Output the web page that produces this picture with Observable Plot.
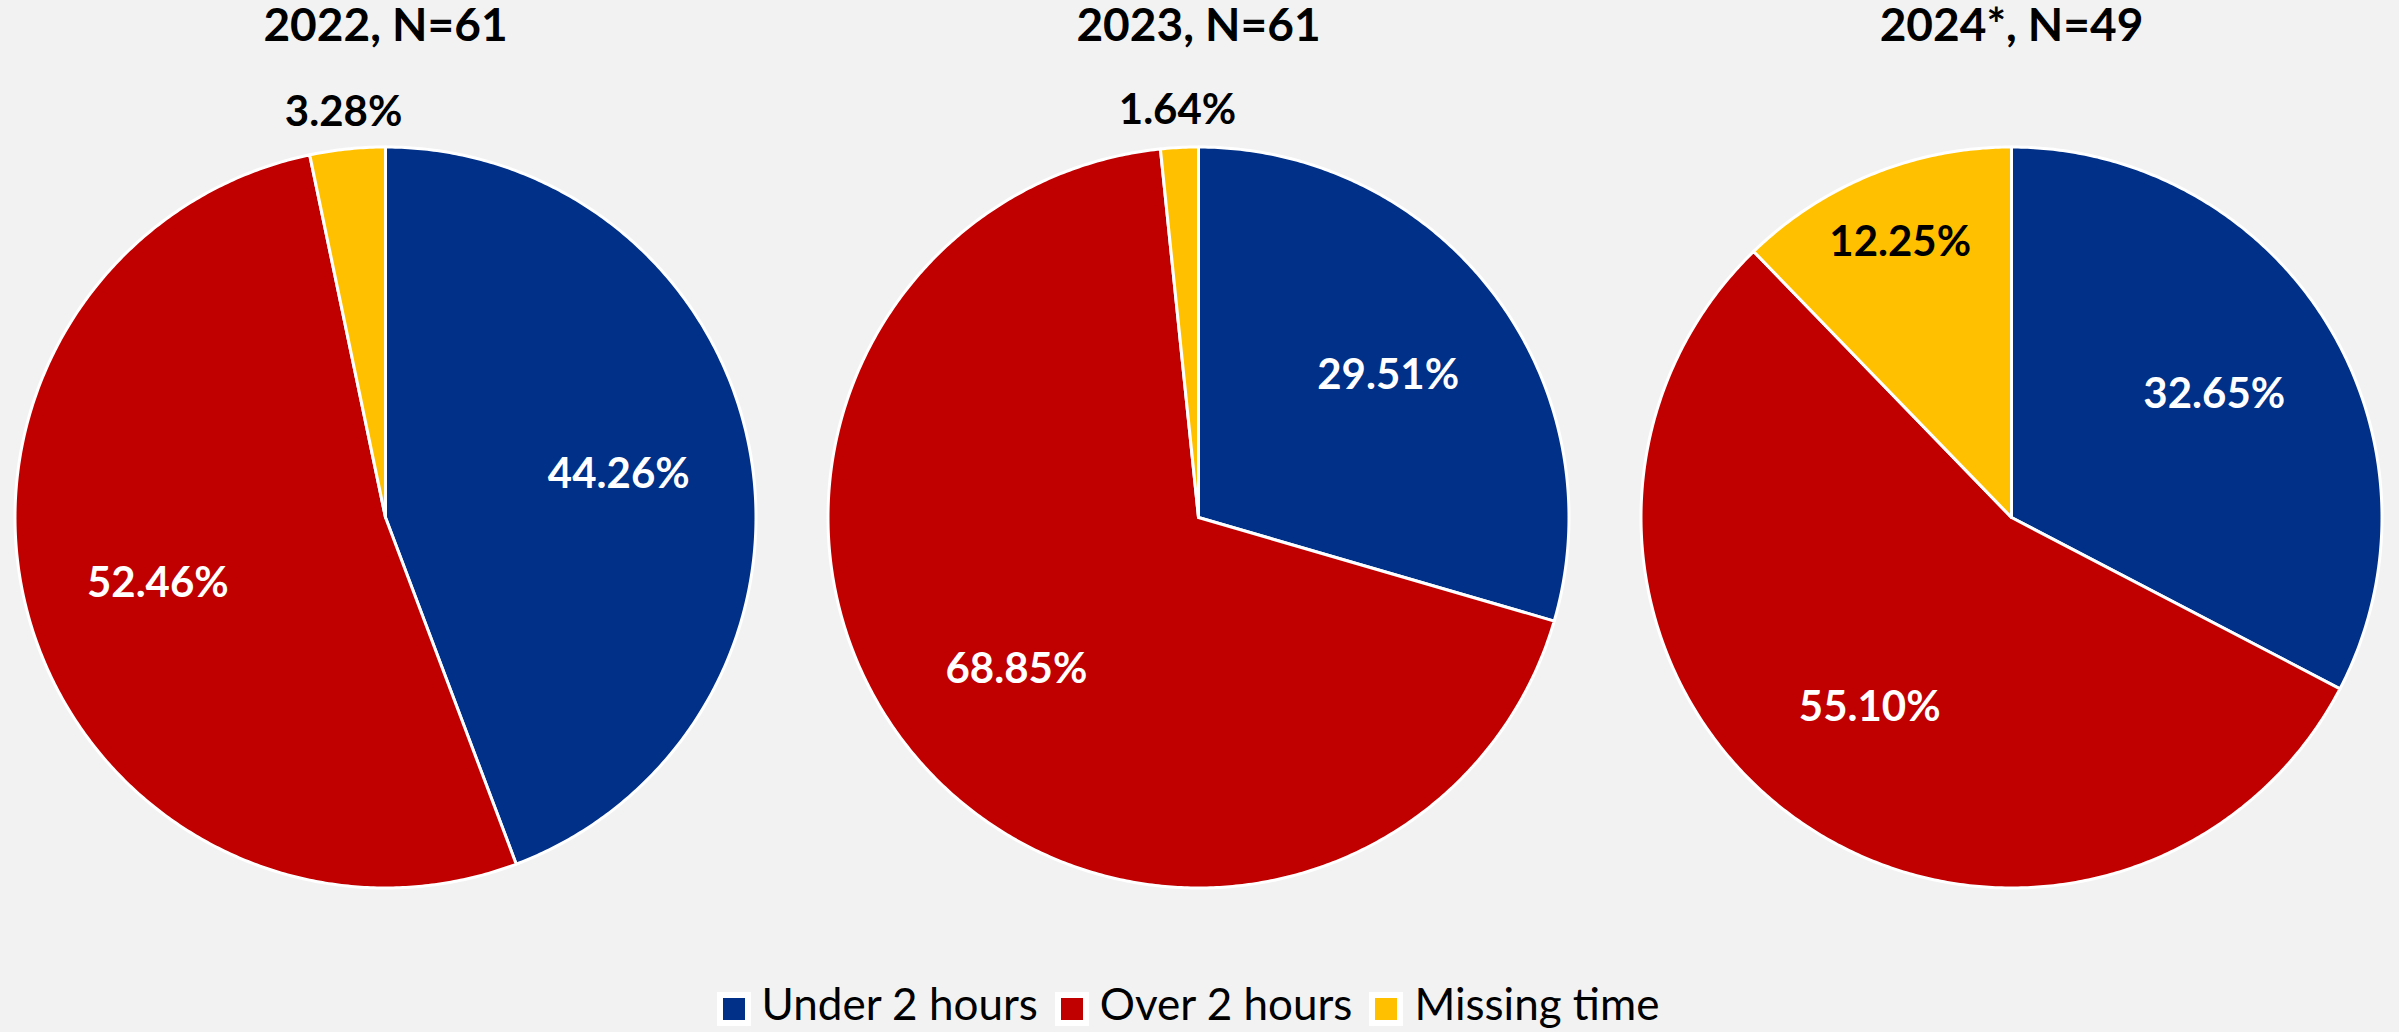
<!DOCTYPE html>
<html>
<head>
<meta charset="utf-8">
<script src="https://cdn.jsdelivr.net/npm/d3@7"></script>
<script src="https://cdn.jsdelivr.net/npm/@observablehq/plot@0.6"></script>
<style>
  html, body { margin: 0; padding: 0; background: #f2f2f2; }
  #chart { width: 2399px; background: #f2f2f2; }
  #legend { width: 2399px; height: 57px; display: flex; justify-content: center; }
  .lg-swatches { font-family: Lato, "Open Sans", sans-serif !important; font-size: 44px !important; line-height: 57px !important; margin: 0 !important; color: #000; display: flex !important; justify-content: center !important; align-items: center !important; }
  .lg-swatch { margin-right: 20px !important; display: inline-flex !important; align-items: center !important; }
  .lg-swatch > svg { margin-right: 14px !important; position: relative; top: 5px; }
  .lg-swatch > svg rect { stroke: #ffffff; stroke-width: 6px; }
</style>
</head>
<body>
<div id="chart"></div>
<div id="legend"></div>
<script>
// ---- data ----
const titles = ["2022, N=61", "2023, N=61", "2024*, N=49"];
const categories = ["Under 2 hours", "Over 2 hours", "Missing time"];
const colors = ["#003087", "#c00000", "#ffc000"];
const under2 = [44.26, 29.51, 32.65];
const over2 = [52.46, 68.85, 55.10];
const missing = [3.28, 1.64, 12.25];

// ---- layout (radius units) ----
const W = 2399, H = 975;
const R = 370.5;            // pixels per unit (pie radius)
const gap = 813 / R;        // distance between pie centres
const x0 = -385 / R;
const yTop = 517 / R, yBottom = -(H - 517) / R;
const titleY = (517 - 26) / R;

const series = [under2, over2, missing];
const slices = [];   // polygon vertices
const labels = [];
const heads = [];
titles.forEach((t, i) => {
  const cx = i * gap;
  heads.push({x: cx, y: titleY, text: t});
  let start = 0;
  categories.forEach((c, k) => {
    const v = series[k][i];
    const a0 = start / 100 * 2 * Math.PI;
    const a1 = (start + v) / 100 * 2 * Math.PI;
    const id = i + "-" + k;
    slices.push({id, cat: c, x: cx, y: 0});
    const n = Math.max(2, Math.ceil((a1 - a0) / (Math.PI / 360)));
    for (let j = 0; j <= n; j++) {
      const a = a0 + (a1 - a0) * j / n;
      slices.push({id, cat: c, x: cx + Math.sin(a), y: Math.cos(a)});
    }
    slices.push({id, cat: c, x: cx, y: 0});
    const am = (a0 + a1) / 2;
    const rl = v < 5 ? 1.1 : v < 20 ? 0.8 : 0.64;
    const dark = v < 5 || k === 2;
    labels.push({x: cx + rl * Math.sin(am), y: rl * Math.cos(am), text: v.toFixed(2) + "%", dark});
    start += v;
  });
});

const font = "Lato, 'Open Sans', sans-serif";
const plot = Plot.plot({
  width: W, height: H,
  marginTop: 0, marginBottom: 0, marginLeft: 0, marginRight: 0,
  style: {background: "#f2f2f2", overflow: "visible"},
  x: {axis: null, domain: [x0, x0 + W / R]},
  y: {axis: null, domain: [yBottom, yTop]},
  color: {domain: categories, range: colors},
  marks: [
    Plot.line(slices, {x: "x", y: "y", z: "id", fill: "cat", stroke: "#ffffff", strokeWidth: 3, strokeLinejoin: "round", curve: "linear"}),
    Plot.text(labels.filter(d => !d.dark), {x: "x", y: "y", text: "text", fill: "#ffffff", fontSize: 42, fontWeight: "bold", fontFamily: font}),
    Plot.text(labels.filter(d => d.dark), {x: "x", y: "y", text: "text", fill: "#000000", fontSize: 42, fontWeight: "bold", fontFamily: font}),
    Plot.text(heads, {x: "x", y: "y", text: "text", fill: "#000000", fontSize: 46, fontWeight: "bold", fontFamily: font})
  ]
});
document.getElementById("chart").append(plot);

const legend = Plot.legend({
  legend: "swatches",
  color: {domain: categories, range: colors},
  swatchSize: 28,
  className: "lg"
});
document.getElementById("legend").append(legend);
</script>
</body>
</html>
